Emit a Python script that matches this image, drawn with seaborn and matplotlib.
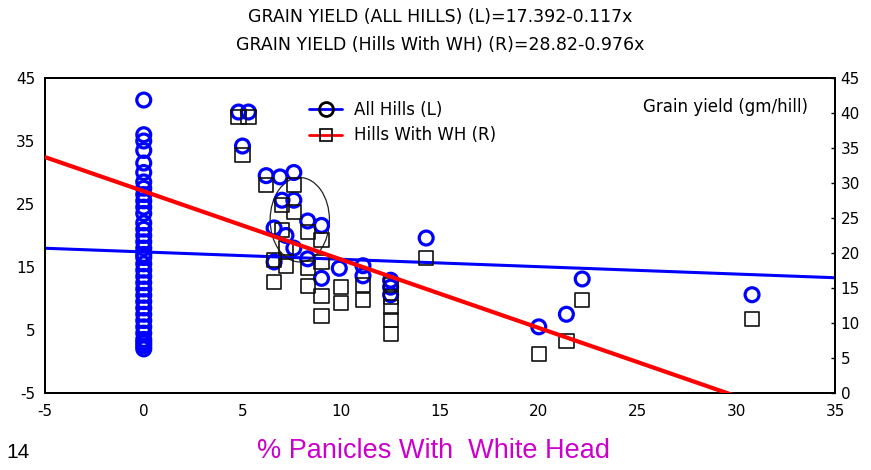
import matplotlib
matplotlib.use("Agg")
import matplotlib.pyplot as plt
import seaborn as sns
import numpy as np
import pandas as pd
from matplotlib.lines import Line2D
from matplotlib.patches import Ellipse

# ---------------- data ----------------
# All hills (left axis): % panicles with white head vs grain yield
x_all_zero = [0.0] * 35
y_all_zero = [41.5, 36, 35, 33.5, 31.5, 30, 28.5, 27.5, 26.5, 25.5, 24.5, 23.5,
              22, 21, 20, 19, 18, 17, 16.5, 15.5, 14.5, 13.5, 12.5, 11.5, 10.5,
              9.5, 8.5, 7.5, 6.5, 5.5, 4.5, 3.5, 3, 2.5, 2]
x_all_wh = [4.8, 5.3, 5.0, 6.2, 6.9, 7.6, 7.0, 7.6, 6.6, 7.2, 8.3, 9.0, 6.6,
            7.6, 8.3, 9.0, 9.9, 11.1, 11.1, 12.5, 12.5, 12.5, 14.3, 20.0, 21.4,
            22.2, 30.8]
y_all_wh = [39.6, 39.6, 34.2, 29.5, 29.3, 30.0, 25.6, 25.6, 21.2, 20.0, 22.3,
            21.6, 15.8, 18.0, 16.3, 13.2, 14.8, 15.2, 13.6, 12.9, 11.8, 10.6,
            19.6, 5.5, 7.5, 13.1, 10.6]

# Hills with white head (right axis)
x_wh = [4.8, 5.3, 5.0, 6.2, 7.6, 7.0, 7.6, 7.0, 8.3, 9.0, 7.2, 6.6, 7.2, 8.3,
        8.3, 9.0, 9.0, 9.0, 6.6, 10.0, 10.0, 11.1, 11.1, 12.5, 12.5, 12.5,
        12.5, 12.5, 14.3, 20.0, 21.4, 22.2, 30.8]
y_wh = [39.4, 39.4, 34.0, 29.7, 29.7, 26.9, 25.9, 23.3, 23.0, 21.9, 20.7, 19.0,
        18.1, 17.9, 15.3, 18.7, 13.9, 11.0, 15.9, 15.1, 12.9, 15.4, 13.3, 15.4,
        13.7, 12.3, 10.4, 8.4, 19.3, 5.6, 7.4, 13.3, 10.6]

# Regression coefficients (intercept, slope)
fit_all = [17.392, -0.117]
fit_wh = [28.82, -0.976]

x_ticks = [-5, 0, 5, 10, 15, 20, 25, 30, 35]
left_ticks = [-5, 5, 15, 25, 35, 45]
right_ticks = [0, 5, 10, 15, 20, 25, 30, 35, 40, 45]

# annotation ellipse (center x, center y, width, height) on left axis
ellipse_spec = [7.9, 22.5, 3.0, 13.4]

# ---------------- style ----------------
sns.set_style("white")
plt.rcParams["font.family"] = ["DejaVu Sans"]
plt.rcParams["axes.unicode_minus"] = False
plt.rcParams["text.color"] = "black"
plt.rcParams["xtick.color"] = "black"
plt.rcParams["ytick.color"] = "black"
plt.rcParams["axes.labelcolor"] = "black"

fig = plt.figure(figsize=(8.71, 4.70), dpi=100)
ax = fig.add_axes([45 / 871, 1 - 393 / 470, 790 / 871, 315 / 470])
ax2 = ax.twinx()

df_all = pd.DataFrame({"x": x_all_zero + x_all_wh, "y": y_all_zero + y_all_wh})
df_wh = pd.DataFrame({"x": x_wh, "y": y_wh})

xline = np.array([x_ticks[0], x_ticks[-1]], dtype=float)
df_line_all = pd.DataFrame({"x": xline, "y": fit_all[0] + fit_all[1] * xline})
df_line_wh = pd.DataFrame({"x": xline, "y": fit_wh[0] + fit_wh[1] * xline})

BLUE = "#0000FF"
RED = "#FF0000"

sns.scatterplot(data=df_all, x="x", y="y", ax=ax, marker="o", s=100,
                facecolor="none", edgecolor=BLUE, linewidth=2.3, zorder=3)
sns.lineplot(data=df_line_all, x="x", y="y", ax=ax, color=BLUE, lw=2.2, zorder=2)

e = Ellipse((ellipse_spec[0], ellipse_spec[1]), ellipse_spec[2], ellipse_spec[3],
            fill=False, ec="#222222", lw=0.9, zorder=2)
ax.add_patch(e)

sns.scatterplot(data=df_wh, x="x", y="y", ax=ax2, marker="s", s=105,
                facecolor="none", edgecolor="#111111", linewidth=1.2, zorder=3)
sns.lineplot(data=df_line_wh, x="x", y="y", ax=ax2, color=RED, lw=3, zorder=4)

ax.set_xlim(-5, 35)
ax.set_ylim(-5, 45)
ax2.set_ylim(0, 45)
ax.set_xticks(x_ticks)
ax.set_xticklabels([str(t) for t in x_ticks])
ax.set_yticks(left_ticks)
ax.set_yticklabels([str(t) for t in left_ticks])
ax2.set_yticks(right_ticks)
ax2.set_yticklabels([str(t) for t in right_ticks])

ax.set_xlabel("")
ax.set_ylabel("")
ax2.set_ylabel("")
ax.tick_params(axis="x", direction="in", length=3, width=1, pad=8, labelsize=11,
               top=False, colors="black")
ax.tick_params(axis="y", length=0, pad=7, labelsize=11, colors="black")
ax2.tick_params(axis="y", direction="in", length=3, width=1, pad=4, labelsize=11,
                colors="black")
for a in (ax, ax2):
    for sp in a.spines.values():
        sp.set_visible(True)
        sp.set_color("black")
        sp.set_linewidth(1.4)
ax.grid(False)
ax2.grid(False)

# legend
handles = [
    Line2D([0], [0], color=BLUE, lw=2, marker="o", markersize=10,
           markerfacecolor="none", markeredgecolor="black", markeredgewidth=2),
    Line2D([0], [0], color=RED, lw=2, marker="s", markersize=9,
           markerfacecolor="none", markeredgecolor="black", markeredgewidth=1.2),
]
leg = fig.legend(handles, ["All Hills (L)", "Hills With WH (R)"], loc="upper left",
                 bbox_to_anchor=(294 / 871, 1 - 86 / 470), frameon=False,
                 fontsize=12, handlelength=2.0, handletextpad=0.7,
                 labelspacing=0.45)
for t in leg.get_texts():
    t.set_color("black")

fig.text(725 / 871, 1 - 107 / 470, "Grain yield (gm/hill)", ha="center",
         va="center", fontsize=12, color="black")

fig.text(440 / 871, 1 - 17 / 470, "GRAIN YIELD (ALL HILLS) (L)=17.392-0.117x",
         ha="center", va="center", fontsize=12.5, color="black")
fig.text(440 / 871, 1 - 45 / 470, "GRAIN YIELD (Hills With WH) (R)=28.82-0.976x",
         ha="center", va="center", fontsize=12.5, color="black")

fig.text(433 / 871, 1 - 451 / 470, "% Panicles With  White Head", ha="center",
         va="center", fontsize=19.5, color="#CC00CC",
         family=["Liberation Sans", "DejaVu Sans"])
fig.text(6 / 871, 1 - 452 / 470, "14", ha="left", va="center", fontsize=15,
         color="black", family=["Liberation Sans", "DejaVu Sans"])

fig.savefig("out.png", dpi=100)
